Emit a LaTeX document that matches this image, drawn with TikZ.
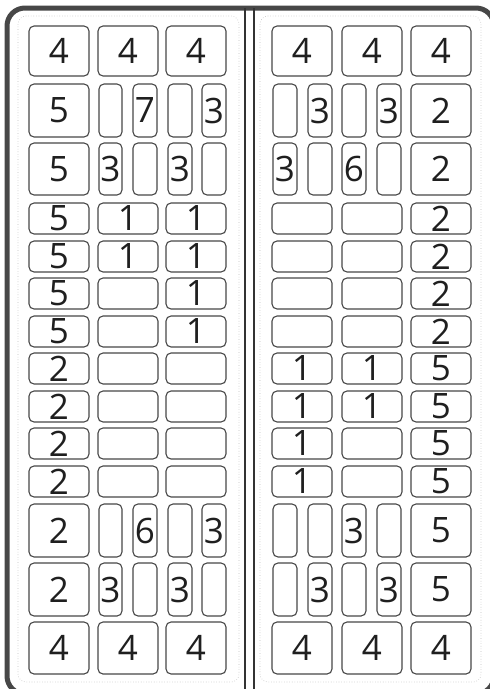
\documentclass[tikz,border=0pt]{standalone}
\usepackage{fontspec}
\setmainfont{Open Sans}
\tikzset{
  bx/.style={draw=black!72, line width=1.1pt, rounded corners=5pt, inner sep=0pt,
    font=\fontsize{35}{35}\selectfont, text=black!88},
  frame/.style={draw=black!72, line width=5pt, rounded corners=18pt},
  divline/.style={draw=black!80, line width=1.8pt},
  faint/.style={draw=black!25, line width=0.6pt, dotted, rounded corners=8pt}
}
\newcommand{\bx}[6]{\node[bx, minimum width={#3pt-#2pt}, minimum height={#5pt-#4pt}] (#1) at ({(#2+#3)/2},{(#4+#5)/2}) {#6};}
\begin{document}
\begin{tikzpicture}[x=1pt,y=-1pt]
\useasboundingbox (0,0) rectangle (490,689);
\fill[white] (0,0) rectangle (490,689);
\begin{scope}
\clip (0,0) rectangle (490,689);
\draw[frame] (7,8) rectangle (494,694);
\end{scope}
\draw[faint] (18,16) rectangle (239,682);
\draw[faint] (260,16) rectangle (481,682);
\draw[divline] (245,8) -- (245,689);
\draw[divline] (254,8) -- (254,689);
% ---------- left panel ----------
% three-column rows
\foreach \n/\ya/\yb/\ta/\tb/\tc in {1/26/76/4/4/4, 4/203/234/5/1/1, 5/241/272/5/1/1, 6/278/309/5//1, 7/316/347/5//1, 8/353/384/2//, 9/391/422/2//, 10/428/459/2//, 11/466/497/2//, 14/622/674/4/4/4}{
  \bx{L\n a}{29}{89}{\ya}{\yb}{\ta}
  \bx{L\n b}{98}{158}{\ya}{\yb}{\tb}
  \bx{L\n c}{166}{226}{\ya}{\yb}{\tc}
}
% big + four narrow rows
\foreach \n/\ya/\yb/\ta/\tp/\tq/\tr/\ts in {2/84/137/5//7//3, 3/143/195/5/3//3/, 12/504/557/2//6//3, 13/563/616/2/3//3/}{
  \bx{L\n a}{29}{89}{\ya}{\yb}{\ta}
  \bx{L\n p}{99}{122}{\ya}{\yb}{\tp}
  \bx{L\n q}{133}{157}{\ya}{\yb}{\tq}
  \bx{L\n r}{168}{192}{\ya}{\yb}{\tr}
  \bx{L\n s}{202}{226}{\ya}{\yb}{\ts}
}
% ---------- right panel ----------
\foreach \n/\ya/\yb/\ta/\tb/\tc in {1/26/76/4/4/4, 4/203/234///2, 5/241/272///2, 6/278/309///2, 7/316/347///2, 8/353/384/1/1/5, 9/391/422/1/1/5, 10/428/459/1//5, 11/466/497/1//5, 14/622/674/4/4/4}{
  \bx{R\n a}{272}{332}{\ya}{\yb}{\ta}
  \bx{R\n b}{342}{402}{\ya}{\yb}{\tb}
  \bx{R\n c}{411}{471}{\ya}{\yb}{\tc}
}
\foreach \n/\ya/\yb/\tp/\tq/\tr/\ts/\tc in {2/84/137//3//3/2, 3/143/195/3//6//2, 12/504/557///3//5, 13/563/616//3//3/5}{
  \bx{R\n p}{273}{297}{\ya}{\yb}{\tp}
  \bx{R\n q}{308}{332}{\ya}{\yb}{\tq}
  \bx{R\n r}{342}{366}{\ya}{\yb}{\tr}
  \bx{R\n s}{377}{401}{\ya}{\yb}{\ts}
  \bx{R\n c}{411}{471}{\ya}{\yb}{\tc}
}
\end{tikzpicture}
\end{document}
